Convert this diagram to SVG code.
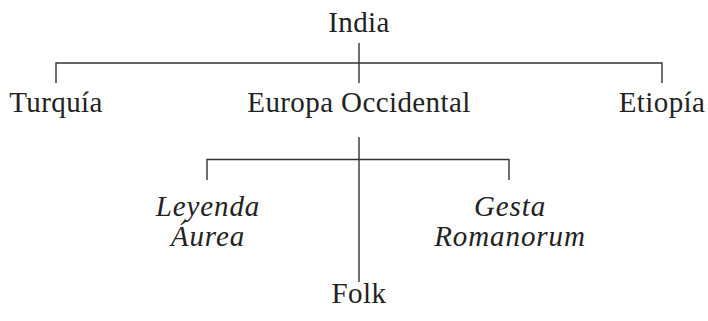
<svg xmlns="http://www.w3.org/2000/svg" width="708" height="321" viewBox="0 0 708 321">
<style>
text{font-family:"Liberation Serif","Times New Roman",serif;font-size:29px;letter-spacing:0.4px;fill:#222;text-anchor:middle}
.it{font-style:italic;letter-spacing:0.9px}
.c{stroke:#333;stroke-width:1.4;fill:none}
</style>
<rect width="708" height="321" fill="#fff"/>
<g id="connectors">
<path class="c" d="M359 43V83M56 83V63H662V83"/>
<path class="c" d="M359 137V282M207 180V159.5H509V180"/>
</g>
<g id="india"><text x="359" y="32">India</text></g>
<g id="turquia"><text x="56" y="112">Turquía</text></g>
<g id="europa"><text x="359" y="112">Europa Occidental</text></g>
<g id="etiopia"><text x="662" y="112">Etiopía</text></g>
<g id="leyenda"><text class="it" x="208" y="216">Leyenda</text><text class="it" x="208" y="246">Áurea</text></g>
<g id="gesta"><text class="it" x="510" y="216">Gesta</text><text class="it" x="510" y="246">Romanorum</text></g>
<g id="folk"><text x="359" y="303">Folk</text></g>
</svg>
